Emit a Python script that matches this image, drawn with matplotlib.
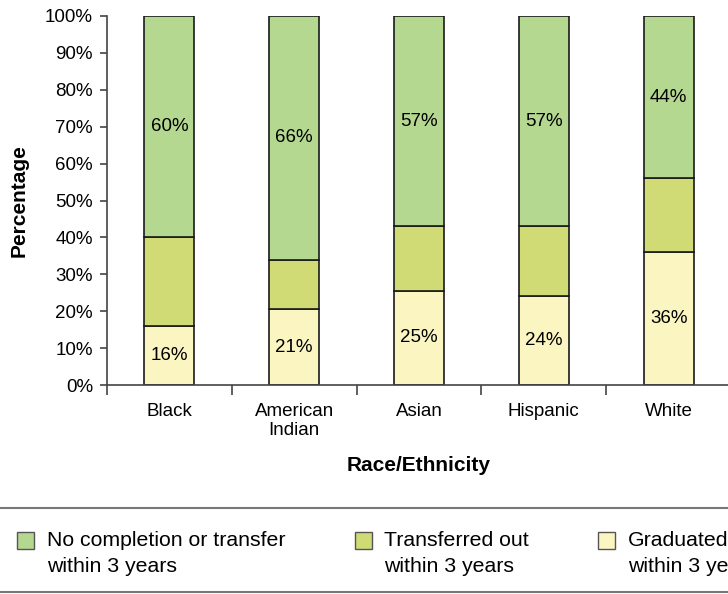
import matplotlib.pyplot as plt
from matplotlib.patches import Rectangle
from matplotlib.lines import Line2D
import numpy as np

plt.rcParams['font.family'] = ['Liberation Sans', 'DejaVu Sans']

# Data (percent of each group)
groups = ['Black', 'American\nIndian', 'Asian', 'Hispanic', 'White']
graduated = [16, 20.5, 25.5, 24, 36]
transferred = [24, 13.5, 17.5, 19, 20]
no_completion = [60, 66, 57, 57, 44]
grad_labels = ['16%', '21%', '25%', '24%', '36%']
nocomp_labels = ['60%', '66%', '57%', '57%', '44%']

series_names = ['No completion or transfer\nwithin 3 years',
                'Transferred out\nwithin 3 years',
                'Graduated\nwithin 3 years']
colors = ['#b5d891', '#d0db75', '#fbf5c2']

fig = plt.figure(figsize=(7.28, 5.94), dpi=100)
ax = fig.add_axes([107 / 728, 209 / 594, 624 / 728, 369 / 594])

x = np.arange(len(groups))
w = 0.4
grad = np.array(graduated)
trans = np.array(transferred)
nocomp = np.array(no_completion)

ax.bar(x, grad, w, color=colors[2], edgecolor='#1a1a1a', linewidth=1.2)
ax.bar(x, trans, w, bottom=grad, color=colors[1], edgecolor='#1a1a1a', linewidth=1.2)
ax.bar(x, nocomp, w, bottom=grad + trans, color=colors[0], edgecolor='#1a1a1a', linewidth=1.2)

for i in range(len(groups)):
    ax.text(x[i], grad[i] / 2, grad_labels[i], ha='center', va='center', fontsize=13.5)
    top_mid = grad[i] + trans[i] + nocomp[i] / 2
    ax.text(x[i], top_mid, nocomp_labels[i], ha='center', va='center', fontsize=13.5)

ax.set_xlim(-0.5, len(groups) - 0.5)
ax.set_ylim(0, 100)
ax.set_yticks(np.arange(0, 101, 10))
ax.set_yticklabels([f'{v}%' for v in range(0, 101, 10)])
ax.set_xticks(x)
ax.set_xticklabels(groups, linespacing=1.15)
ax.set_xticks(np.arange(-0.5, len(groups)), minor=True)
ax.tick_params(axis='x', which='major', length=0, pad=13, labelsize=13.5)
ax.tick_params(axis='x', which='minor', length=7, width=1.2, color='#444444')
ax.tick_params(axis='y', length=5, width=1.2, color='#444444', pad=5, labelsize=13.5)

for s in ['top', 'right']:
    ax.spines[s].set_visible(False)
for s in ['left', 'bottom']:
    ax.spines[s].set_color('#444444')
    ax.spines[s].set_linewidth(1.2)

ax.set_ylabel('Percentage', fontsize=15, fontweight='bold', labelpad=12)
ax.set_xlabel('Race/Ethnicity', fontsize=15, fontweight='bold', labelpad=12)

# Legend band between two gray rules
W, H = 728, 594
fig.add_artist(Line2D([0, 1], [1 - 508 / H, 1 - 508 / H], color='#777777', lw=1.5))
fig.add_artist(Line2D([0, 1], [1 - 592 / H, 1 - 592 / H], color='#777777', lw=1.5))

box_x = [17, 355, 598]
text_x = [47, 384, 628]
for bx, tx, name, c in zip(box_x, text_x, series_names, colors):
    fig.add_artist(Rectangle((bx / W, 1 - 549 / H), 17 / W, 17 / H,
                             facecolor=c, edgecolor='#555555', lw=1.0,
                             transform=fig.transFigure))
    fig.text(tx / W, 1 - 531 / H, name, ha='left', va='top', fontsize=15.3,
             linespacing=1.45)

fig.savefig('out.png', dpi=100)
